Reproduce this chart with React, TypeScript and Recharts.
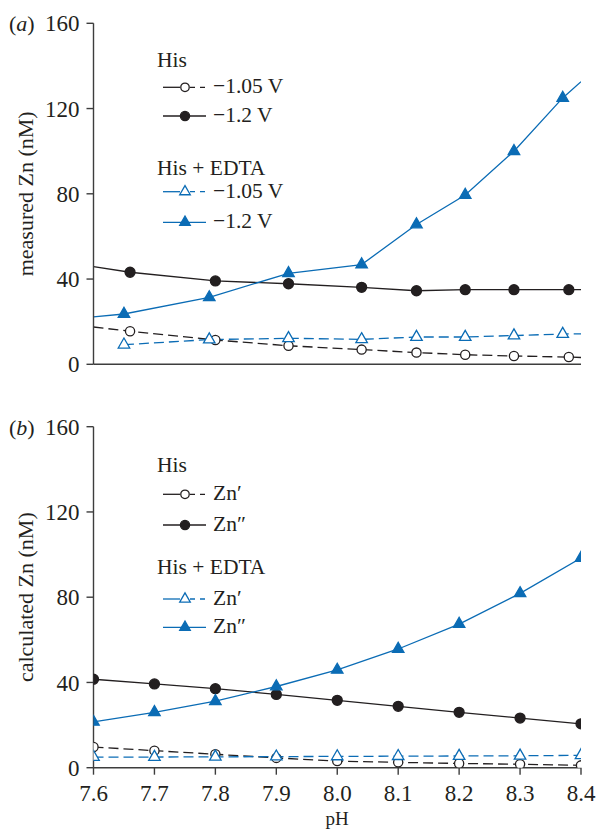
import { LineChart, Line, XAxis, YAxis } from 'recharts';

const BLACK = '#231f20';
const BLUE = '#0b6cb5';
const AXIS = '#3d3d3d';
const FONT = '"Liberation Serif", "Times New Roman", serif';

const PH_TICKS = [7.6, 7.7, 7.8, 7.9, 8.0, 8.1, 8.2, 8.3, 8.4];
const ZN_TICKS = [0, 40, 80, 120, 160];

// (a) measured Zn — circles and triangles were sampled at slightly different pH
const PH_A_CIRCLE = [7.66, 7.8, 7.92, 8.04, 8.13, 8.21, 8.29, 8.38];
const PH_A_TRIANGLE = [7.65, 7.79, 7.92, 8.04, 8.13, 8.21, 8.29, 8.37];
const A_HIS_105 = [15.5, 11.4, 8.7, 6.9, 5.5, 4.5, 3.9, 3.4];
const A_HIS_12 = [43.2, 39.1, 37.8, 36.1, 34.5, 35.0, 35.0, 35.0];
const A_EDTA_105 = [9.2, 11.6, 12.2, 11.7, 12.8, 12.8, 13.5, 14.2];
const A_EDTA_12 = [23.6, 31.4, 42.7, 46.8, 65.6, 79.4, 100.0, 125.0];
// line values where the fitted curves meet the frame at pH 7.6 and 8.4 (null = no extension)
const A_HIS_105_ENDS = [17.5, 3.2];
const A_HIS_12_ENDS = [45.8, 35.0];
const A_EDTA_105_ENDS = [null, 14.3];
const A_EDTA_12_ENDS = [22.3, 132.6];

// (b) calculated Zn
const PH_B = [7.6, 7.7, 7.8, 7.9, 8.0, 8.1, 8.2, 8.3, 8.4];
const B_HIS_ZN1 = [9.7, 8.0, 6.3, 4.6, 3.1, 2.5, 2.0, 1.6, 1.1];
const B_HIS_ZN2 = [41.5, 39.3, 37.1, 34.4, 31.6, 28.8, 26.0, 23.3, 20.6];
const B_EDTA_ZN1 = [5.0, 5.0, 5.1, 5.2, 5.3, 5.4, 5.5, 5.6, 5.8];
const B_EDTA_ZN2 = [21.5, 26.0, 31.2, 38.1, 45.9, 55.7, 67.4, 81.8, 98.4];

type Pt = { ph: number; v: number; edge?: boolean };
type Kind = 'openCircle' | 'filledCircle' | 'openTriangle' | 'filledTriangle';

function series(ph: number[], vals: number[], ends?: (number | null)[]): Pt[] {
  const pts: Pt[] = ph.map((p, i) => ({ ph: p, v: vals[i] }));
  if (ends && ends[0] != null) pts.unshift({ ph: 7.6, v: ends[0], edge: true });
  if (ends && ends[1] != null) pts.push({ ph: 8.4, v: ends[1], edge: true });
  return pts;
}

function Marker({ x, y, kind, color, scale = 1 }: { x: number; y: number; kind: Kind; color: string; scale?: number }) {
  if (kind === 'openCircle' || kind === 'filledCircle') {
    const filled = kind === 'filledCircle';
    return <circle cx={x} cy={y} r={(filled ? 5 : 4.6) * scale} fill={filled ? color : '#fff'} stroke={color} strokeWidth={1.3} />;
  }
  const filled = kind === 'filledTriangle';
  const w = 11.5 * scale;
  const h = 10 * scale;
  const pts = `${x},${y - (2 * h) / 3} ${x + w / 2},${y + h / 3} ${x - w / 2},${y + h / 3}`;
  return <polygon points={pts} fill={filled ? color : '#fff'} stroke={color} strokeWidth={1.3} />;
}

function dotFor(kind: Kind, color: string) {
  return (p: any) => {
    if (p.payload?.edge || p.cx == null) return <g key={`e-${p.index}`} />;
    return (
      <g key={`d-${p.index}`}>
        <Marker x={p.cx} y={p.cy} kind={kind} color={color} />
      </g>
    );
  };
}

type SeriesDef = { data: Pt[]; kind: Kind; color: string; dashed: boolean };

function Panel({ height, top, bottomAxis, showTickLabels, lines }: {
  height: number;
  top: number;
  bottomAxis: number;
  showTickLabels: boolean;
  lines: SeriesDef[];
}) {
  const tickStyle = { fontFamily: FONT, fontSize: 23, fill: BLACK };
  return (
    <LineChart width={596} height={height} margin={{ top, right: 15, bottom: 0, left: 0 }}>
      <XAxis
        xAxisId={0}
        type="number"
        dataKey="ph"
        domain={[7.6, 8.4]}
        ticks={PH_TICKS}
        allowDataOverflow
        height={bottomAxis}
        stroke={AXIS}
        strokeWidth={1.4}
        tickSize={7}
        tickMargin={10}
        tick={showTickLabels ? tickStyle : false}
        tickFormatter={(v: number) => v.toFixed(1)}
      />
      <XAxis
        xAxisId="top"
        orientation="top"
        type="number"
        dataKey="ph"
        domain={[7.6, 8.4]}
        ticks={PH_TICKS}
        allowDataOverflow
        height={0}
        stroke={AXIS}
        strokeWidth={1.4}
        tickSize={7}
        tick={false}
      />
      <YAxis
        yAxisId={0}
        type="number"
        domain={[0, 160]}
        ticks={ZN_TICKS}
        allowDataOverflow
        width={93.5}
        stroke={AXIS}
        strokeWidth={1.4}
        tickSize={7}
        tickMargin={7}
        tick={tickStyle}
      />
      <YAxis
        yAxisId="right"
        orientation="right"
        type="number"
        domain={[0, 160]}
        ticks={ZN_TICKS}
        allowDataOverflow
        width={0}
        stroke={AXIS}
        strokeWidth={1.4}
        tickSize={7}
        tick={false}
      />
      {lines.map((s, i) => (
        <Line
          key={i}
          xAxisId={0}
          yAxisId={0}
          data={s.data}
          dataKey="v"
          type="linear"
          stroke={s.color}
          strokeWidth={1.3}
          strokeDasharray={s.dashed ? '10 5' : undefined}
          dot={dotFor(s.kind, s.color)}
          activeDot={false}
          isAnimationActive={false}
        />
      ))}
    </LineChart>
  );
}

type LegendRow = { label: string; kind: Kind; color: string; dashed: boolean };

function LegendBlock({ titles, rowsY, rows, textDy }: {
  titles: { text: string; y: number }[];
  rowsY: number[];
  rows: LegendRow[];
  textDy: number;
}) {
  return (
    <g fontFamily={FONT} fill={BLACK}>
      {titles.map((t) => (
        <text key={t.text} x={157} y={t.y} fontSize={21.5}>{t.text}</text>
      ))}
      {rows.map((r, i) => {
        const y = rowsY[i];
        return (
          <g key={i}>
            {r.dashed ? (
              <>
                <line x1={163} x2={180} y1={y} y2={y} stroke={r.color} strokeWidth={1.3} />
                <line x1={190} x2={206} y1={y} y2={y} stroke={r.color} strokeWidth={1.3} strokeDasharray="5 5" />
              </>
            ) : (
              <line x1={163} x2={206} y1={y} y2={y} stroke={r.color} strokeWidth={1.3} />
            )}
            <Marker x={185} y={y} kind={r.kind} color={r.color} scale={0.92} />
            <text x={213} y={y + textDy} fontSize={21.5}>{r.label}</text>
          </g>
        );
      })}
    </g>
  );
}

export default function App() {
  const linesA: SeriesDef[] = [
    { data: series(PH_A_CIRCLE, A_HIS_105, A_HIS_105_ENDS), kind: 'openCircle', color: BLACK, dashed: true },
    { data: series(PH_A_TRIANGLE, A_EDTA_105, A_EDTA_105_ENDS), kind: 'openTriangle', color: BLUE, dashed: true },
    { data: series(PH_A_CIRCLE, A_HIS_12, A_HIS_12_ENDS), kind: 'filledCircle', color: BLACK, dashed: false },
    { data: series(PH_A_TRIANGLE, A_EDTA_12, A_EDTA_12_ENDS), kind: 'filledTriangle', color: BLUE, dashed: false },
  ];
  const linesB: SeriesDef[] = [
    { data: series(PH_B, B_HIS_ZN1), kind: 'openCircle', color: BLACK, dashed: true },
    { data: series(PH_B, B_EDTA_ZN1), kind: 'openTriangle', color: BLUE, dashed: true },
    { data: series(PH_B, B_HIS_ZN2), kind: 'filledCircle', color: BLACK, dashed: false },
    { data: series(PH_B, B_EDTA_ZN2), kind: 'filledTriangle', color: BLUE, dashed: false },
  ];

  const rowsA: LegendRow[] = [
    { label: '\u22121.05 V', kind: 'openCircle', color: BLACK, dashed: true },
    { label: '\u22121.2 V', kind: 'filledCircle', color: BLACK, dashed: false },
    { label: '\u22121.05 V', kind: 'openTriangle', color: BLUE, dashed: true },
    { label: '\u22121.2 V', kind: 'filledTriangle', color: BLUE, dashed: false },
  ];
  const rowsB: LegendRow[] = [
    { label: 'Zn\u2032', kind: 'openCircle', color: BLACK, dashed: true },
    { label: 'Zn\u2033', kind: 'filledCircle', color: BLACK, dashed: false },
    { label: 'Zn\u2032', kind: 'openTriangle', color: BLUE, dashed: true },
    { label: 'Zn\u2033', kind: 'filledTriangle', color: BLUE, dashed: false },
  ];

  return (
    <div style={{ position: 'absolute', left: 0, top: 0, width: 596, height: 829, background: '#fff' }}>
      <div style={{ position: 'absolute', left: 0, top: 0 }}>
        <Panel height={400} top={23.3} bottomAxis={35.7} showTickLabels={false} lines={linesA} />
      </div>
      <div style={{ position: 'absolute', left: 0, top: 400 }}>
        <Panel height={429} top={26.7} bottomAxis={61.3} showTickLabels lines={linesB} />
      </div>
      <svg width={596} height={829} style={{ position: 'absolute', left: 0, top: 0, pointerEvents: 'none' }}>
        <g fontFamily={FONT} fontSize={22} fill={BLACK}>
          <text x={9} y={31}>(<tspan fontStyle="italic">a</tspan>)</text>
          <text x={9} y={435}>(<tspan fontStyle="italic">b</tspan>)</text>
          <text x={33} y={193.8} textAnchor="middle" transform="rotate(-90 33 193.8)">measured Zn (nM)</text>
          <text x={33} y={597.2} textAnchor="middle" transform="rotate(-90 33 597.2)">calculated Zn (nM)</text>
          <text x={337} y={824.5} textAnchor="middle" fontSize={19}>pH</text>
        </g>
        <LegendBlock
          titles={[{ text: 'His', y: 66.7 }, { text: 'His + EDTA', y: 175.2 }]}
          rowsY={[87.3, 116, 191.7, 222.3]}
          rows={rowsA}
          textDy={5.8}
        />
        <LegendBlock
          titles={[{ text: 'His', y: 471.7 }, { text: 'His + EDTA', y: 574 }]}
          rowsY={[494.3, 525, 599, 627.3]}
          rows={rowsB}
          textDy={6}
        />
      </svg>
    </div>
  );
}
